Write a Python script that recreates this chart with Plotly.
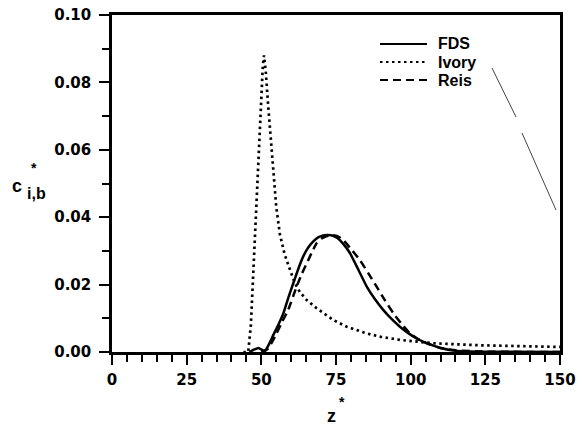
import plotly.graph_objects as go

# FDS (solid)
z_fds = [46, 47.5, 49, 50.3, 51.2, 52.5, 54, 55.7, 57.4, 59, 60.7, 62.3, 64, 65.7, 67.4, 69, 70.7, 72.3, 74, 75.5, 77.5, 79.7, 82.5, 85.3, 88, 90.8, 93.6, 96.4, 99.2, 102, 106, 110, 115, 125, 150]
c_fds = [0, 0.0007, 0.0012, 0.0006, 0.0002, 0.0022, 0.0050, 0.0081, 0.0115, 0.0160, 0.0204, 0.0245, 0.0283, 0.0310, 0.0328, 0.0340, 0.0346, 0.0347, 0.0345, 0.0338, 0.0320, 0.0293, 0.0244, 0.0194, 0.0157, 0.0125, 0.0098, 0.0075, 0.0056, 0.0040, 0.0024, 0.0012, 0.0004, 0.0001, 0]

# Ivory (dotted)
z_ivory = [44, 45.6, 46.5, 47.3, 48.2, 49, 49.6, 50.1, 50.5, 50.9, 51.5, 52.3, 53.2, 54, 55, 56.2, 57.8, 59.6, 61.2, 62.9, 65.2, 68.5, 71.9, 74.1, 78.6, 85.3, 90, 96.4, 107.5, 123, 150]
c_ivory = [0, 0, 0.008, 0.0235, 0.038, 0.053, 0.066, 0.078, 0.085, 0.088, 0.083, 0.073, 0.062, 0.053, 0.043, 0.035, 0.029, 0.0244, 0.0205, 0.0178, 0.0154, 0.0130, 0.0108, 0.0095, 0.0075, 0.0055, 0.0045, 0.0036, 0.0026, 0.0020, 0.0015]

# Reis (dashed)
z_reis = [50, 52, 53.5, 55.1, 57, 59, 61.8, 63.5, 65.2, 67, 68.5, 70, 71.3, 73.5, 75.5, 77.4, 80, 83, 85.8, 88.6, 91.4, 94.2, 97, 99.8, 102.5, 105.4, 110, 115, 125, 150]
c_reis = [0, 0.0008, 0.0028, 0.0055, 0.0090, 0.0125, 0.0194, 0.0231, 0.0263, 0.0297, 0.0323, 0.0336, 0.0342, 0.0347, 0.0344, 0.0333, 0.0306, 0.0273, 0.0234, 0.0194, 0.0153, 0.0115, 0.0083, 0.0055, 0.0038, 0.0026, 0.0012, 0.0005, 0.0001, 0]

legend_names = ["FDS", "Ivory", "Reis"]
x_ticks = [0, 25, 50, 75, 100, 125, 150]
y_ticks = [0.00, 0.02, 0.04, 0.06, 0.08, 0.10]

FONT = "Liberation Sans, Arial, sans-serif"
TICKFONT = "DejaVu Sans, sans-serif"
DOT = "2.5px,3.5px"
DASH = "8px,5px"

fig = go.Figure()
fig.add_trace(go.Scatter(x=z_fds, y=c_fds, mode="lines", line=dict(color="black", width=2.5, shape="spline", smoothing=0.4), showlegend=False))
fig.add_trace(go.Scatter(x=z_ivory, y=c_ivory, mode="lines", line=dict(color="black", width=2.7, dash=DOT), showlegend=False))
fig.add_trace(go.Scatter(x=z_reis, y=c_reis, mode="lines", line=dict(color="black", width=2.5, dash=DASH, shape="spline", smoothing=0.4), showlegend=False))

def px_to_paper(px, py):
    return (px - 112) / 448.0, (352 - py) / 337.0

# manual legend
dashes = ["solid", DOT, DASH]
ys = [44, 62, 80]
for name, d, yy in zip(legend_names, dashes, ys):
    x0, y0 = px_to_paper(380, yy)
    x1, _ = px_to_paper(427, yy)
    fig.add_shape(type="line", xref="paper", yref="paper", x0=x0, x1=x1, y0=y0, y1=y0,
                  line=dict(color="black", width=2.2, dash=d))
    tx, ty = px_to_paper(436, yy)
    fig.add_annotation(xref="paper", yref="paper", x=tx, y=ty, text="<b>%s</b>" % name,
                       showarrow=False, xanchor="left", yanchor="middle",
                       font=dict(family=FONT, size=16, color="black"))

# scan artifact line
for (a, b) in [((492, 68), (516, 117)), ((522, 133), (556, 210))]:
    ax, ay = px_to_paper(*a)
    bx, by = px_to_paper(*b)
    fig.add_shape(type="line", xref="paper", yref="paper", x0=ax, y0=ay, x1=bx, y1=by,
                  line=dict(color="#444", width=1))

# axis titles
fig.add_annotation(xref="paper", yref="paper", x=px_to_paper(331, 0)[0], y=px_to_paper(0, 416)[1],
                   text="<b>z</b>", showarrow=False, xanchor="center", yanchor="middle",
                   font=dict(family=FONT, size=18, color="black"))
fig.add_annotation(xref="paper", yref="paper", x=px_to_paper(342, 0)[0], y=px_to_paper(0, 402)[1],
                   text="<b>*</b>", showarrow=False, xanchor="center", yanchor="middle",
                   font=dict(family=FONT, size=14, color="black"))
fig.add_annotation(xref="paper", yref="paper", x=px_to_paper(10, 0)[0], y=px_to_paper(0, 186)[1],
                   text="<b>c</b>", showarrow=False, xanchor="left", yanchor="middle",
                   font=dict(family=FONT, size=18, color="black"))
fig.add_annotation(xref="paper", yref="paper", x=px_to_paper(25, 0)[0], y=px_to_paper(0, 193)[1],
                   text="<b>i,b</b>", showarrow=False, xanchor="left", yanchor="middle",
                   font=dict(family=FONT, size=16, color="black"))
fig.add_annotation(xref="paper", yref="paper", x=px_to_paper(34, 0)[0], y=px_to_paper(0, 168)[1],
                   text="<b>*</b>", showarrow=False, xanchor="center", yanchor="middle",
                   font=dict(family=FONT, size=14, color="black"))

fig.update_layout(
    width=586, height=429,
    margin=dict(l=112, r=26, t=15, b=77, autoexpand=False),
    paper_bgcolor="white", plot_bgcolor="white",
    font=dict(family=FONT, size=15, color="black"),
    showlegend=False,
)
fig.update_xaxes(range=[0, 150], tickvals=x_ticks, ticktext=["<b>%d</b>" % v for v in x_ticks],
                 ticks="outside", ticklen=10, tickwidth=2, tickcolor="black",
                 minor=dict(dtick=5, ticks="outside", ticklen=7, tickwidth=2, tickcolor="black"),
                 showline=True, linewidth=2.5, linecolor="black", mirror=True, ticklabelstandoff=2,
                 showgrid=False, zeroline=False, tickfont=dict(family=TICKFONT, size=15), automargin=False)
fig.update_yaxes(range=[0, 0.10], tickvals=y_ticks, ticktext=["<b>%.2f</b>" % v for v in y_ticks],
                 ticks="outside", ticklen=10, tickwidth=2, tickcolor="black",
                 minor=dict(dtick=0.01, ticks="outside", ticklen=7, tickwidth=2, tickcolor="black"),
                 showline=True, linewidth=2.5, linecolor="black", mirror=True, ticklabelstandoff=5,
                 showgrid=False, zeroline=False, tickfont=dict(family=TICKFONT, size=15), automargin=False)

fig.write_html("out.html", config={"displayModeBar": False},
               post_script="document.body.style.margin='0';document.body.style.overflow='hidden';")
